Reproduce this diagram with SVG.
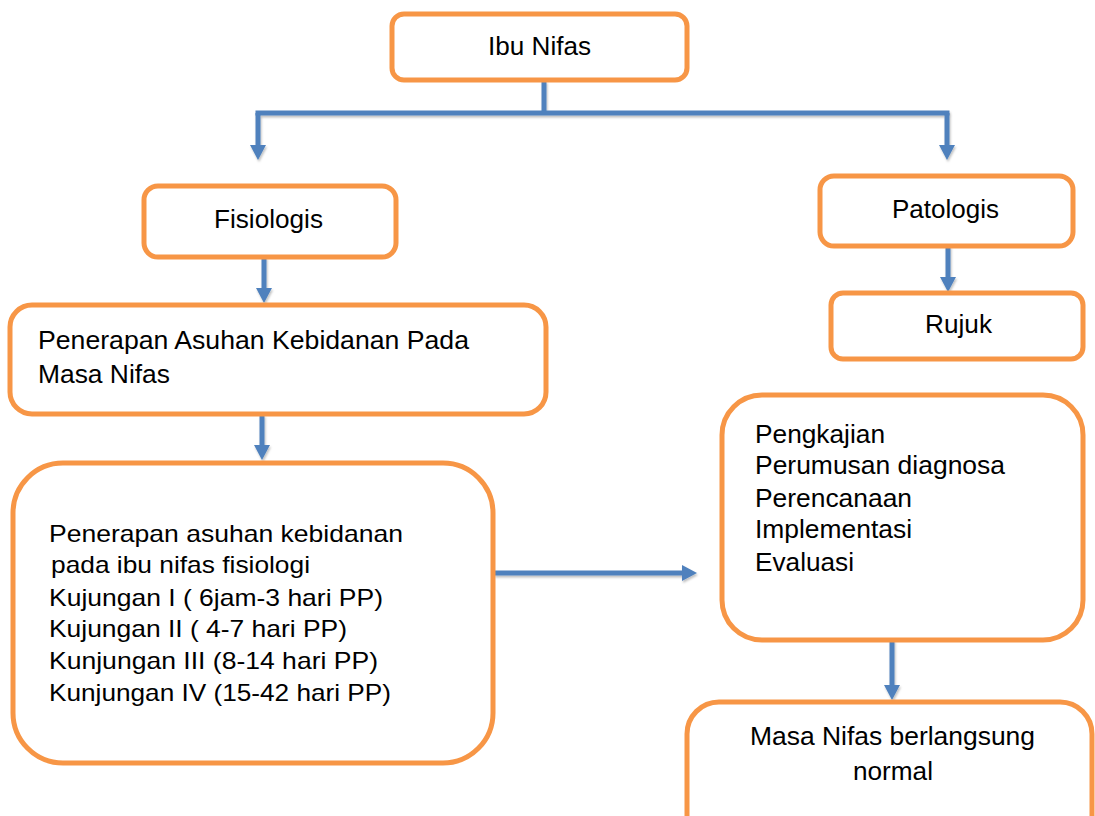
<svg xmlns="http://www.w3.org/2000/svg" width="1095" height="816" viewBox="0 0 1095 816">
<style>
.box{fill:#fff;stroke:#F79646;stroke-width:5}
.t{font-family:"Liberation Sans",Arial,sans-serif;font-size:25px;fill:#000}
.t26{font-size:26px}
.t24{font-size:24px}
.c{fill:none;stroke:#4F81BD;stroke-width:5}
</style>
<defs>
<marker id="ah" viewBox="0 0 15 16" refX="0" refY="8" markerWidth="15" markerHeight="16" markerUnits="userSpaceOnUse" orient="auto">
<path d="M0,0 L15,8 L0,16 z" fill="#4F81BD"/>
</marker>
<filter id="sh" x="-10%" y="-10%" width="120%" height="130%">
<feDropShadow dx="1" dy="2" stdDeviation="1.2" flood-color="#000" flood-opacity="0.25"/>
</filter>
</defs>
<rect width="1095" height="816" fill="#fff"/>

<g id="connectors" filter="url(#sh)">
<path class="c" d="M544,81 V113"/>
<path class="c" d="M255.5,113 H949.5"/>
<path class="c" d="M258,113 V145" marker-end="url(#ah)"/>
<path class="c" d="M947,113 V145" marker-end="url(#ah)"/>
<path class="c" d="M264,257 V288" marker-end="url(#ah)"/>
<path class="c" d="M948,246 V277" marker-end="url(#ah)"/>
<path class="c" d="M262,415 V445" marker-end="url(#ah)"/>
<path class="c" d="M494,573 H682" marker-end="url(#ah)"/>
<path class="c" d="M892,640 V685" marker-end="url(#ah)"/>
</g>

<g id="ibu-nifas">
<rect class="box" x="392" y="14" width="295" height="66" rx="12"/>
<text class="t t26" x="488" y="55" textLength="103" lengthAdjust="spacingAndGlyphs">Ibu Nifas</text>
</g>

<g id="fisiologis">
<rect class="box" x="144" y="186" width="252" height="71" rx="14"/>
<text class="t t26" x="214" y="228" textLength="109" lengthAdjust="spacingAndGlyphs">Fisiologis</text>
</g>

<g id="patologis">
<rect class="box" x="820" y="176" width="253" height="70" rx="14"/>
<text class="t" x="892" y="218" textLength="107" lengthAdjust="spacingAndGlyphs">Patologis</text>
</g>

<g id="rujuk">
<rect class="box" x="831" y="293" width="252" height="66" rx="12"/>
<text class="t" x="925" y="333" textLength="67" lengthAdjust="spacingAndGlyphs">Rujuk</text>
</g>

<g id="penerapan-asuhan">
<rect class="box" x="10" y="305" width="536" height="109" rx="22"/>
<text class="t" x="38" y="349" textLength="431" lengthAdjust="spacingAndGlyphs">Penerapan Asuhan Kebidanan Pada</text>
<text class="t" x="38" y="383" textLength="132" lengthAdjust="spacingAndGlyphs">Masa Nifas</text>
</g>

<g id="penerapan-fisiologi">
<rect class="box" x="13" y="463" width="480" height="300" rx="50"/>
<text class="t t24" x="49" y="542" textLength="354" lengthAdjust="spacingAndGlyphs">Penerapan asuhan kebidanan</text>
<text class="t t24" x="51" y="573" textLength="259" lengthAdjust="spacingAndGlyphs">pada ibu nifas fisiologi</text>
<text class="t t24" x="49" y="606" textLength="334" lengthAdjust="spacingAndGlyphs">Kujungan I ( 6jam-3 hari PP)</text>
<text class="t t24" x="49" y="637" textLength="298" lengthAdjust="spacingAndGlyphs">Kujungan II ( 4-7 hari PP)</text>
<text class="t t24" x="49" y="669" textLength="329" lengthAdjust="spacingAndGlyphs">Kunjungan III (8-14 hari PP)</text>
<text class="t t24" x="49" y="701" textLength="342" lengthAdjust="spacingAndGlyphs">Kunjungan IV (15-42 hari PP)</text>
</g>

<g id="langkah">
<rect class="box" x="722" y="395" width="361" height="245" rx="40"/>
<text class="t" x="755" y="443" textLength="130" lengthAdjust="spacingAndGlyphs">Pengkajian</text>
<text class="t" x="755" y="474" textLength="250" lengthAdjust="spacingAndGlyphs">Perumusan diagnosa</text>
<text class="t" x="755" y="507" textLength="157" lengthAdjust="spacingAndGlyphs">Perencanaan</text>
<text class="t" x="755" y="538" textLength="157" lengthAdjust="spacingAndGlyphs">Implementasi</text>
<text class="t" x="755" y="571" textLength="99" lengthAdjust="spacingAndGlyphs">Evaluasi</text>
</g>

<g id="masa-nifas-normal">
<rect class="box" x="687" y="702" width="405" height="150" rx="32"/>
<text class="t" x="750" y="745" textLength="285" lengthAdjust="spacingAndGlyphs">Masa Nifas berlangsung</text>
<text class="t" x="853" y="780" textLength="80" lengthAdjust="spacingAndGlyphs">normal</text>
</g>
</svg>
